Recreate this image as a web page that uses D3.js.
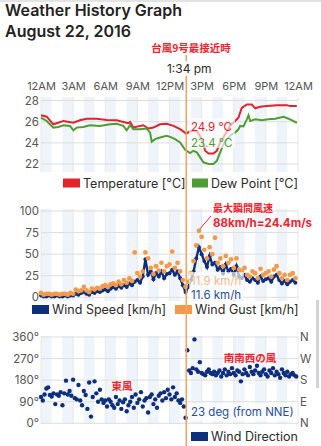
<!DOCTYPE html>
<html><head><meta charset="utf-8">
<script src="https://cdn.jsdelivr.net/npm/d3@7"></script>
<style>
html,body{margin:0;padding:0;background:#fff;}
svg{display:block;font-family:Inter,"Noto Sans",sans-serif;}
</style></head>
<body>
<svg id="c" width="321" height="446"></svg>
<script>
// ---------- data ----------
const hourTickValues = [0,3,6,9,12,15,18,21,24];
const hourTickLabels = ["12AM","3AM","6AM","9AM","12PM","3PM","6PM","9PM","12AM"];

const tempHours = [0,0.53,1.15,1.62,2.09,3.02,3.64,4.27,5.2,6.14,7.07,7.69,8.16,8.32,8.63,9.25,9.56,10.03,10.5,11.12,11.74,12.37,12.99,13.55,14.08,14.55,15.02,15.33,15.64,16.1,16.42,16.73,17.2,17.66,18.13,18.44,18.75,19.22,19.69,20,20.47,21.09,22.03,22.96,23.27,23.89];
const temperature = [26.6,26.47,25.75,25.9,26.07,25.9,26.13,26.28,26.28,26.16,26.13,25.97,25.85,25.97,25.44,25.6,25.66,25.35,25.44,25.75,25.8,25.6,25.29,24.88,25.13,25.13,24.35,23.25,23.0,23.0,23.25,24.03,24.8,25.6,26.07,26.38,27.31,27.63,27.63,27.26,27.4,27.47,27.56,27.56,27.47,27.47];

const dewHours = [0,0.53,1.15,1.62,2.09,2.71,3.02,3.33,3.95,4.58,5.51,6.45,7.07,7.69,8.0,8.32,8.63,9.25,9.87,10.19,10.34,10.65,11.12,11.74,12.06,12.52,12.99,13.46,13.92,14.23,14.55,14.86,15.17,15.64,16.1,16.42,16.73,17.04,17.35,17.82,18.13,18.44,18.6,18.91,19.22,19.38,19.53,20,20.62,21.24,21.87,22.65,23.11,23.89];
const dewPoint = [26.38,26.07,25.44,25.5,25.66,25.6,25.19,25.44,25.5,25.66,25.6,25.75,25.8,25.6,25.19,25.66,25.28,25.28,25.35,24.97,24.1,24.35,24.5,24.66,24.56,24.35,24.03,23.35,23.04,23.25,23.1,22.63,22.16,22.0,22.0,22.3,23.1,23.88,24.35,24.8,24.97,25.28,25.6,25.55,26.22,26.6,26.07,26.22,26.13,26.22,26.28,26.47,26.28,25.9];

// wind, every 15 minutes from 12AM
const windStepHours = 0.25;
const windSpeed = [2,1,1,2,1,1,2,1,1,2,1,2,
  2,4,3,5,6,4,3,6,5,7,6,8,
  9,7,10,12,10,13,11,14,12,16,14,18,
  20,17,24,44,26,30,21,28,24,30,22,27,
  28,32,26,30,22,14,6,12,20,30,45,58,
  50,42,35,48,38,40,32,35,28,38,30,33,
  26,36,24,22,26,20,18,22,20,17,24,19,
  21,22,18,24,26,20,16,19,15,18,20,17];
const windGust = [5,3,4,4,3,4,4,3,4,4,3,5,
  4,9,7,8,12,8,6,10,9,11,10,13,
  14,12,15,16,14,18,15,20,17,22,19,52,
  28,24,30,52,45,34,27,36,31,40,30,36,
  38,53,34,40,30,20,12,18,28,42,60,77,
  70,55,45,58,50,69,40,45,36,48,40,44,
  34,45,32,30,34,26,24,30,28,22,33,26,
  28,30,24,32,36,28,22,26,20,26,28,22];

// wind direction, every 10 minutes from 12AM
const dirStepHours = 1/6;
const windDirection = [110,95,120,145,150,118,112,125,80,120,115,130,75,125,178,120,135,115,
  182,105,100,160,95,75,135,118,60,170,28,110,175,125,90,140,100,85,
  95,70,100,90,75,65,110,80,95,60,88,100,50,75,90,110,65,120,
  85,100,130,70,95,105,45,110,120,80,100,65,115,125,95,130,105,140,
  120,100,150,110,125,95,85,100,70,
  23,305,
  220,210,230,350,225,215,255,210,205,200,215,225,210,
  205,215,200,210,220,195,210,225,200,215,205,230,210,200,220,215,175,205,225,210,200,235,215,205,
  220,240,210,200,215,225,205,195,220,210,230,200,215,205,190,225,210,200,215,195,205,210,200,195];

const tempTicks = [22,24,26,28];
const windTicks = [0,25,50,75,100];
const dirTicks = [0,90,180,270,360];
const dirTickLabels = ["0°","90°","180°","270°","360°"];
const compassLabels = ["N","E","S","W","N"];
const cursorHour = 13 + 34/60;

// ---------- drawing ----------
const C = {red:"#e2232c", green:"#4f9c34", navy:"#0e2f7c", orange:"#f29a4c", grid:"#dedede", stripe:"#eef4fa", tick:"#555", text:"#2b2b2b"};
const svg = d3.select("#c");
const L = 41, R = 298;
const x = d3.scaleLinear().domain([0,24]).range([L,R]);

// top border & scrollbar artifacts
svg.append("rect").attr("x",0).attr("y",0).attr("width",321).attr("height",2).attr("fill","#e3e3e3");
svg.append("rect").attr("x",316).attr("y",300).attr("width",3).attr("height",88).attr("fill","#d4d4d4");

// Title
svg.append("text").attr("x",5).attr("y",16).attr("font-size",16).attr("font-weight",600).attr("fill","#222").text("Weather History Graph");
svg.append("text").attr("x",5).attr("y",37).attr("font-size",16).attr("font-weight",600).attr("fill","#222").text("August 22, 2016");

function panel(top, bottom, yScale, ticks, fmt) {
  const g = svg.append("g");
  for (let h = 0; h < 24; h += 2) {
    g.append("rect").attr("x",x(h)).attr("y",top).attr("width",x(h+1)-x(h)).attr("height",bottom-top).attr("fill",C.stripe);
  }
  hourTickValues.forEach(h => g.append("line").attr("x1",x(h)).attr("x2",x(h)).attr("y1",top).attr("y2",bottom).attr("stroke","#e8e8e8").attr("stroke-width",1));
  const ax = g.append("g").attr("transform",`translate(${L-2},0)`)
    .call(d3.axisLeft(yScale).tickValues(ticks).tickSize(0).tickPadding(0).tickFormat(fmt));
  ax.select(".domain").remove();
  ax.selectAll("text").attr("font-size",11.5).attr("fill",C.tick).attr("font-family","Inter,sans-serif");
  ticks.forEach(t => g.append("line").attr("x1",L).attr("x2",R).attr("y1",yScale(t)).attr("y2",yScale(t)).attr("stroke",C.grid).attr("stroke-width",1));
  return g;
}

// ---- Temperature panel ----
const yT = d3.scaleLinear().domain([22,28]).range([164,100.5]);
panel(97,172,yT,tempTicks,d=>d);
const xAx = svg.append("g").attr("transform","translate(0,90)")
  .call(d3.axisTop(x).tickValues(hourTickValues).tickSize(0).tickPadding(0).tickFormat((d,i)=>hourTickLabels[i]));
xAx.select(".domain").remove();
xAx.selectAll("text").attr("font-size",11).attr("fill",C.tick).attr("font-family","Inter,sans-serif");

const tLine = d3.line().x((d,i)=>x(tempHours[i])).y(d=>yT(d));
svg.append("path").datum(temperature).attr("d",tLine).attr("fill","none").attr("stroke",C.red).attr("stroke-width",2);
const dLine = d3.line().x((d,i)=>x(dewHours[i])).y(d=>yT(d));
svg.append("path").datum(dewPoint).attr("d",dLine).attr("fill","none").attr("stroke",C.green).attr("stroke-width",2);

function legendItem(rx, ry, color, label, w) {
  svg.append("rect").attr("x",rx).attr("y",ry).attr("width",w||17).attr("height",9).attr("fill",color);
  svg.append("text").attr("x",rx+(w||17)+3).attr("y",ry+9).attr("font-size",12.5).attr("fill",C.text).text(label);
}
legendItem(63,178.5,C.red,"Temperature [°C]");
legendItem(192,178.5,C.green,"Dew Point [°C]",16);

// ---- Wind panel ----
const yW = d3.scaleLinear().domain([0,100]).range([297.3,211]);
panel(209,301,yW,windTicks,d=>d);
const wx = (d,i)=>x(i*windStepHours);
svg.append("path").datum(windSpeed).attr("d",d3.line().x(wx).y(d=>yW(d))).attr("fill","none").attr("stroke",C.navy).attr("stroke-width",2.4);
svg.append("g").selectAll("circle").data(windSpeed).join("circle").attr("cx",wx).attr("cy",d=>yW(d)).attr("r",2).attr("fill",C.navy);
svg.append("g").selectAll("circle").data(windGust).join("circle").attr("cx",wx).attr("cy",d=>yW(d)).attr("r",2.4).attr("fill",C.orange);
legendItem(32,305,C.navy,"Wind Speed [km/h]");
legendItem(175,305,C.orange,"Wind Gust [km/h]");

// ---- Direction panel ----
const yD = d3.scaleLinear().domain([0,360]).range([423.3,337]);
panel(336,424,yD,dirTicks,(d,i)=>dirTickLabels[i]);
const rAx = svg.append("g").attr("transform",`translate(${R+2},0)`)
  .call(d3.axisRight(yD).tickValues(dirTicks).tickSize(0).tickPadding(0).tickFormat((d,i)=>compassLabels[i]));
rAx.select(".domain").remove();
rAx.selectAll("text").attr("font-size",11.5).attr("fill",C.tick).attr("font-family","Inter,sans-serif");
svg.append("g").selectAll("circle").data(windDirection).join("circle")
  .attr("cx",(d,i)=>x(i*dirStepHours)).attr("cy",d=>yD(d)).attr("r",2.2).attr("fill",C.navy);
legendItem(191,432,C.navy,"Wind Direction");

// ---- cursor & annotations ----
function labelBox(bx,by,w,h){ svg.append("rect").attr("x",bx).attr("y",by).attr("width",w).attr("height",h).attr("fill","#fff").attr("opacity",0.65); }
labelBox(189,118,46,30);
labelBox(189,272,55,28);
labelBox(189,403,98,18);
svg.append("line").attr("x1",x(cursorHour)).attr("x2",x(cursorHour)).attr("y1",55).attr("y2",446).attr("stroke","#f6a25c").attr("stroke-width",1.5);
svg.append("rect").attr("x",168).attr("y",61).attr("width",44).attr("height",15).attr("fill","#fff").attr("opacity",0.8);
svg.append("text").attr("x",x(cursorHour)+3).attr("y",73).attr("text-anchor","middle").attr("font-size",12).attr("fill",C.text).text("1:34 pm");
const cjk = "'Noto Sans CJK JP',sans-serif";
svg.append("text").attr("x",191).attr("y",52).attr("text-anchor","middle").attr("font-size",10.5).attr("font-weight",700).attr("fill","#ee2430").attr("font-family",cjk).text("台風9号最接近時");

svg.append("text").attr("x",191).attr("y",131).attr("font-size",11.5).attr("fill",C.red).text("24.9 °C");
svg.append("text").attr("x",191).attr("y",147).attr("font-size",11.5).attr("fill",C.green).text("23.4 °C");
svg.append("text").attr("x",191).attr("y",285).attr("font-size",11.5).attr("fill","#f3b88a").text("11.9 km/h");
svg.append("text").attr("x",191).attr("y",299).attr("font-size",11.5).attr("fill","#2a4e9c").text("11.6 km/h");
svg.append("text").attr("x",191).attr("y",416).attr("font-size",11.5).attr("fill","#2a4e9c").text("23 deg (from NNE)");

const peakIdx = windGust.indexOf(d3.max(windGust));
svg.append("line").attr("x1",wx(0,peakIdx)+1).attr("y1",yW(windGust[peakIdx])-2).attr("x2",211).attr("y2",216).attr("stroke","#ee2430").attr("stroke-width",1);
svg.append("text").attr("x",213).attr("y",212).attr("font-size",10).attr("font-weight",700).attr("fill","#ee2430").attr("font-family",cjk).text("最大瞬間風速");
svg.append("text").attr("x",213).attr("y",227).attr("font-size",11.5).attr("font-weight",700).attr("fill","#ee2430").text("88km/h=24.4m/s");
svg.append("text").attr("x",122).attr("y",390).attr("text-anchor","middle").attr("font-size",10.5).attr("font-weight",700).attr("fill","#ee2430").attr("font-family",cjk).text("東風");
svg.append("text").attr("x",250).attr("y",362).attr("text-anchor","middle").attr("font-size",10.5).attr("font-weight",700).attr("fill","#ee2430").attr("font-family",cjk).text("南南西の風");
</script>
</body></html>
